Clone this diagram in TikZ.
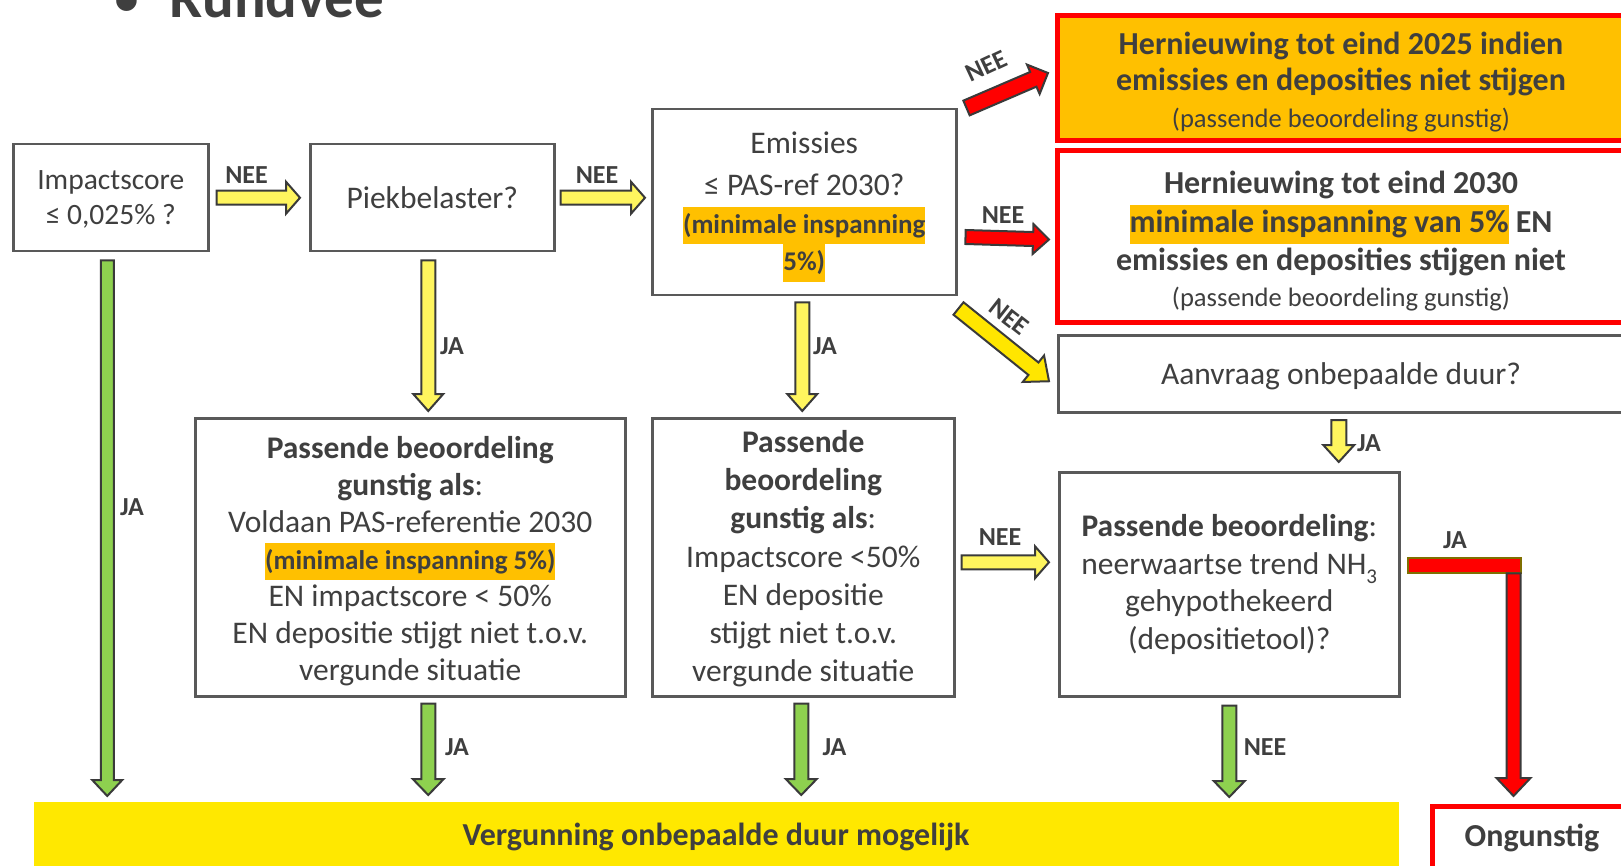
\documentclass[tikz,border=0pt]{standalone}
\usepackage{fontspec}
\setmainfont{Carlito}
\usetikzlibrary{calc}
\definecolor{txt}{HTML}{3F3F3F}
\definecolor{boxline}{HTML}{595959}
\definecolor{lyellow}{HTML}{FFF55E}
\definecolor{ayellow}{HTML}{FFE600}
\definecolor{agreen}{HTML}{8ED14F}
\definecolor{ared}{HTML}{FF0000}
\definecolor{banner}{HTML}{FFE800}
\definecolor{orng}{HTML}{FFC000}
\definecolor{arrline}{HTML}{3A3A3A}
\definecolor{olivebr}{HTML}{7F6F00}
\newcommand\fnorm{\fontsize{31.5}{37.5}\selectfont}
\newcommand\fone{\fontsize{29.5}{35}\selectfont}
\newcommand\fhl{\fontsize{27}{37.5}\selectfont\bfseries}
\newcommand\fbig{\fontsize{32}{36.5}\selectfont\bfseries}
\newcommand\fsm{\fontsize{26.6}{36}\selectfont\mdseries}
\newcommand\hl[1]{{\setlength\fboxsep{0pt}\colorbox{orng}{\strut #1}}}
% block arrow: style, start, end, half shaft, half head, head length
\newcommand\barrow[6]{%
  \path (#2) coordinate (bas) (#3) coordinate (bae);
  \path ($(bae)!#6!(bas)$) coordinate (bneck);
  \draw[#1] ($(bas)!#4!90:(bae)$) -- ($(bneck)!#4!-90:(bas)$) -- ($(bneck)!#5!-90:(bas)$)
    -- (bae) -- ($(bneck)!#5!90:(bas)$) -- ($(bneck)!#4!90:(bas)$) -- ($(bas)!#4!-90:(bae)$) -- cycle;}
\tikzset{
  box/.style={draw=boxline, line width=2.5pt, fill=white, text=txt, align=center,
    anchor=north west, inner sep=0pt, font=\fnorm},
  redbox/.style={box, draw=ared, line width=5pt},
  btext/.style={text=txt, align=center, font=\fnorm, inner sep=0pt},
  lbl/.style={text=txt, font=\fontsize{26}{26}\selectfont\bfseries, inner sep=0pt},
  arr/.style={draw=arrline, line width=2pt, line join=miter},
  yarr/.style={arr, fill=lyellow},
  garr/.style={arr, fill=agreen},
  rarr/.style={arr, fill=ared},
  darr/.style={arr, fill=ayellow},
}
\begin{document}
\begin{tikzpicture}[x=1pt,y=-1pt]
\useasboundingbox (0,0) rectangle (1621,866);
% title
\node[anchor=base west, inner sep=0pt, text=txt, font=\fontsize{58}{58}\selectfont] (bul) at (112,18) {•};
\node[anchor=base west, inner sep=0pt, text=txt, font=\fontsize{59}{59}\selectfont\bfseries] (title) at (169,18) {Rundvee};
% boxes
\node[box, minimum width=195pt, minimum height=107pt] (b1) at (12,143) {};
\node[btext, font=\fone] (b1t) at ($(b1.center)+(0,1.5)$) {Impactscore\\ ≤ 0,025\% ?};
\node[box, minimum width=244pt, minimum height=107pt] (b2) at (309,143) {Piekbelaster?};
\node[box, minimum width=304pt, minimum height=186pt] (b3) at (651,108) {};
\node[btext] (b3t) at ($(b3.center)+(0,4.5)$)
  {Emissies\\[5pt] ≤ PAS-ref 2030?\\ {\fhl\hl{(minimale inspanning}}\\ {\fhl\hl{5\%)}}};
\node[redbox, fill=orng, minimum width=572pt, minimum height=125pt] (b4) at (1055,13) {};
\node[btext, font=\fbig] (b4t) at (1341,82)
  {Hernieuwing tot eind 2025 indien\\ emissies en deposities niet stijgen\\ \fsm (passende beoordeling gunstig)};
\node[redbox, minimum width=572pt, minimum height=172pt] (b5) at (1055,148) {};
\node[btext, font=\fontsize{32}{38.5}\selectfont\bfseries] (b5t) at (1341,241)
  {Hernieuwing tot eind 2030\\ \hl{minimale inspanning van 5\%} EN\\ emissies en deposities stijgen niet\\[-3pt] \fsm (passende beoordeling gunstig)};
\node[box, minimum width=570pt, minimum height=77pt] (b6) at (1057,334) {};
\node[btext] (b6t) at (1341,376) {Aanvraag onbepaalde duur?};
\node[box, minimum width=340pt, minimum height=224pt] (b7) at (1058,471)
  {\textbf{Passende beoordeling}:\\ neerwaartse trend NH\raisebox{-0.3em}{\fontsize{21}{21}\selectfont 3}\\ gehypothekeerd\\ (depositietool)?};
\node[box, minimum width=430pt, minimum height=278pt] (b8) at (194,417) {};
\node[btext, font=\fontsize{31.5}{37}\selectfont] (b8t) at ($(b8.center)+(0,3.5)$)
  {\textbf{Passende beoordeling}\\ \textbf{gunstig als}:\\ Voldaan PAS-referentie 2030\\
   {\fontsize{27}{37}\selectfont\bfseries\hl{(minimale inspanning 5\%)}}\\ EN impactscore < 50\%\\ EN depositie stijgt niet t.o.v.\\ vergunde situatie};
\node[box, minimum width=302pt, minimum height=278pt] (b9) at (651,417) {};
\node[btext, font=\fontsize{31.5}{38.2}\selectfont] (b9t) at ($(b9.center)+(0,1.5)$)
  {\textbf{Passende}\\ \textbf{beoordeling}\\ \textbf{gunstig als}:\\ Impactscore <50\%\\ EN depositie\\ stijgt niet t.o.v.\\ vergunde situatie};
\node[anchor=north west, fill=banner, minimum width=1365pt, minimum height=64pt, inner sep=0pt] (bnr) at (34,802) {};
\node[text=txt, font=\fontsize{32}{32}\selectfont\bfseries, inner sep=0pt] (bnrt) at (716,837) {Vergunning onbepaalde duur mogelijk};
\node[redbox, minimum width=197pt, minimum height=70pt] (ong) at (1430,804) {};
\node[text=txt, font=\fbig, inner sep=0pt] (ongt) at (1532,838) {Ongunstig};
% arrows
\barrow{yarr}{$(b1.east)+(7,0)$}{$(b2.west)+(-9,0)$}{7pt}{16pt}{14pt}
\barrow{yarr}{$(b2.east)+(5,0)$}{$(b3.west |- b2.east)+(-6,0)$}{7pt}{16pt}{14pt}
\barrow{rarr}{$(b3.north east)+(9,0)$}{$(b4.south west)+(-7,-70)$}{8pt}{16pt}{16pt}
\barrow{rarr}{$(b3.north east)+(8,129)$}{$(b5.west)+(-6,3)$}{7pt}{15pt}{16pt}
\barrow{darr}{$(b3.south east)+(1,12)$}{$(b6.west)+(-8,7.5)$}{8pt}{17pt}{20pt}
\barrow{yarr}{$(b9.east |- b7.west)+(6,-22)$}{$(b7.west)+(-9,-22)$}{7pt}{16pt}{14pt}
\barrow{yarr}{$(b7.north)+(109.5,-51)$}{$(b7.north)+(109.5,-9)$}{7.5pt}{15.5pt}{17pt}
\barrow{garr}{$(b1.south)+(-3.5,8)$}{$(b1.south |- bnr.north)+(-3.5,-6)$}{6.5pt}{15pt}{16pt}
\barrow{yarr}{$(b2.south)+(-4,8)$}{$(b8.north)+(18,-6)$}{7pt}{15pt}{17pt}
\barrow{yarr}{$(b3.south)+(-2,6)$}{$(b9.north)+(-1,-6)$}{7pt}{15pt}{17pt}
\barrow{garr}{$(b8.south)+(18,6)$}{$(b8.south |- bnr.north)+(18,-7)$}{7pt}{15.5pt}{16pt}
\barrow{garr}{$(b9.south)+(-2,6)$}{$(b9.south |- bnr.north)+(-2,-7)$}{7pt}{15.5pt}{16pt}
\barrow{garr}{$(b7.south)+(0,8)$}{$(b7.south |- bnr.north)+(0,-5)$}{7pt}{15.5pt}{16pt}
% red elbow
\draw[draw=olivebr, line width=2pt, fill=ared] ($(b7.east)+(7,-26)$) rectangle ($(b7.east)+(120,-11)$);
\barrow{rarr}{$(b7.east)+(113,-11)$}{$(b7.east |- ong.north)+(113,-8)$}{7pt}{17pt}{18pt}
% labels
\node[lbl] (l1) at (246.5,175) {NEE};
\node[lbl] (l2) at (597,175) {NEE};
\node[lbl, rotate=25] (l3) at (986,66) {NEE};
\node[lbl] (l4) at (1003,215) {NEE};
\node[lbl, rotate=-38] (l5) at (1009,317) {NEE};
\node[lbl] (l6) at (1000,537) {NEE};
\node[lbl] (l7) at (132,507) {JA};
\node[lbl] (l8) at (452,346) {JA};
\node[lbl] (l9) at (825,346) {JA};
\node[lbl] (l10) at (1369,443) {JA};
\node[lbl] (l11) at (457,747) {JA};
\node[lbl] (l12) at (834.5,747) {JA};
\node[lbl] (l13) at (1265,747) {NEE};
\node[lbl] (l14) at (1455,540) {JA};
\end{tikzpicture}
\end{document}
